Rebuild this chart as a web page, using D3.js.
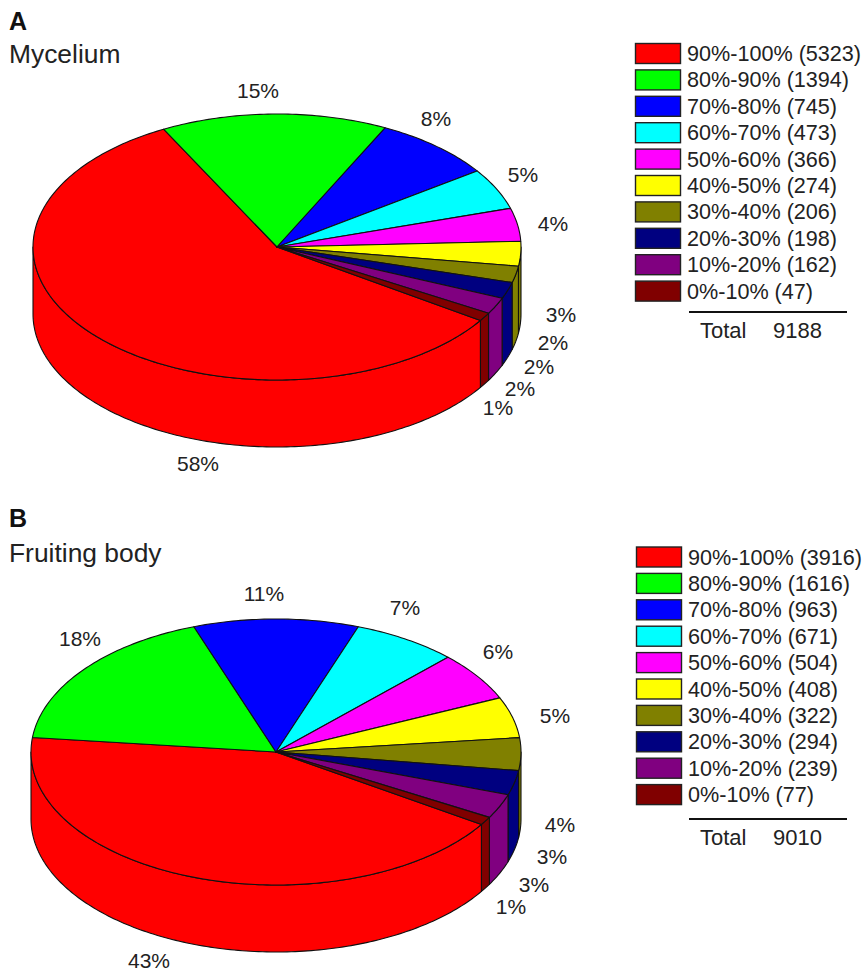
<!DOCTYPE html>
<html>
<head>
<meta charset="utf-8">
<script src="https://cdnjs.cloudflare.com/ajax/libs/d3/7.8.5/d3.min.js"></script>
<style>
  html, body { margin: 0; padding: 0; background: #fff; }
  text { font-family: "Liberation Sans", Arial, sans-serif; fill: #222; }
</style>
</head>
<body>
<svg id="chart" width="862" height="972"></svg>
<script>
const bins = ["90%-100%", "80%-90%", "70%-80%", "60%-70%", "50%-60%", "40%-50%", "30%-40%", "20%-30%", "10%-20%", "0%-10%"];
const sliceColors = ["#ff0000", "#00ff00", "#0000ff", "#00ffff", "#ff00ff", "#ffff00", "#808000", "#000080", "#800080", "#800000"];

const myceliumCounts = [5323, 1394, 745, 473, 366, 274, 206, 198, 162, 47];
const fruitingCounts = [3916, 1616, 963, 671, 504, 408, 322, 294, 239, 77];

const myceliumTotal = 9188;
const fruitingTotal = 9010;

// the slices follow the rounded percentages, not the counts
const myceliumPct = [58, 15, 8, 5, 4, 3, 2, 2, 2, 1];
const fruitingPct = [43, 18, 11, 7, 6, 5, 4, 3, 3, 1];

// in panel A the yellow slice has an olive wall
const myceliumWalls = sliceColors.map((c, i) => i === 5 ? "#808000" : c);

const svg = d3.select("#chart");
const edge = "#111";

function drawPie(cfg) {
  const g = svg.append("g");
  const arcs = d3.pie().sort(null)
    .startAngle(cfg.start)
    .endAngle(cfg.start + 2 * Math.PI)(cfg.pct);

  // d3 pie angle: 0 is up, clockwise
  const px = a => cfg.cx + cfg.rx * Math.sin(a);
  const py = a => cfg.cy - cfg.ry * Math.cos(a);
  const line = d3.line();

  const steps = (a0, a1) => {
    const n = Math.max(2, Math.ceil((a1 - a0) * 60));
    return d3.range(n + 1).map(i => a0 + (a1 - a0) * i / n);
  };

  // side wall, only the part facing the viewer (pi/2 .. 3pi/2)
  arcs.forEach((d, i) => {
    [0, 2 * Math.PI].forEach(off => {
      const a0 = Math.max(d.startAngle - off, Math.PI / 2);
      const a1 = Math.min(d.endAngle - off, 3 * Math.PI / 2);
      if (a1 <= a0) return;
      const top = steps(a0, a1).map(a => [px(a), py(a)]);
      const bot = steps(a0, a1).reverse().map(a => [px(a), py(a) + cfg.depth]);
      g.append("path")
        .attr("d", line(top.concat(bot)) + "Z")
        .attr("fill", cfg.walls[i])
        .attr("stroke", edge)
        .attr("stroke-width", 1.1)
        .attr("stroke-linejoin", "round");
    });
  });

  // top face
  arcs.forEach((d, i) => {
    const rim = steps(d.startAngle, d.endAngle).map(a => [px(a), py(a)]);
    g.append("path")
      .attr("d", line([[cfg.cx, cfg.cy]].concat(rim)) + "Z")
      .attr("fill", sliceColors[i])
      .attr("stroke", edge)
      .attr("stroke-width", 1.1)
      .attr("stroke-linejoin", "round");
  });

  g.selectAll("text.pct")
    .data(cfg.pct)
    .join("text")
    .attr("class", "pct")
    .attr("x", (d, i) => cfg.labelX[i])
    .attr("y", (d, i) => cfg.labelY[i])
    .attr("text-anchor", "middle")
    .attr("font-size", 21)
    .text(d => d + "%");

  // panel letter and title
  g.append("text").attr("x", 9).attr("y", cfg.letterY)
    .attr("font-size", 25).attr("font-weight", "bold").style("fill", "#111").text(cfg.letter);
  g.append("text").attr("x", 9).attr("y", cfg.titleY)
    .attr("font-size", 26.4).text(cfg.title);

  // legend
  const rowY = d3.scaleBand().domain(d3.range(bins.length)).range([cfg.legendTop, cfg.legendTop + 264]);
  const row = g.selectAll("g.row").data(bins).join("g").attr("class", "row")
    .attr("transform", (d, i) => `translate(${cfg.legendDx},${rowY(i)})`);
  row.append("rect")
    .attr("x", 635.5).attr("y", 2.5).attr("width", 45).attr("height", 20)
    .attr("fill", (d, i) => sliceColors[i])
    .attr("stroke", "#222").attr("stroke-width", 1.4);
  row.append("text")
    .attr("x", 687).attr("y", 20)
    .attr("font-size", 21.6)
    .text((d, i) => `${d} (${cfg.counts[i]})`);

  g.append("line").attr("x1", 689).attr("x2", 847).attr("y1", cfg.ruleY).attr("y2", cfg.ruleY)
    .attr("stroke", "#111").attr("stroke-width", 1.8);
  g.append("text").attr("x", 700).attr("y", cfg.ruleY + 26).attr("font-size", 22).text("Total");
  g.append("text").attr("x", 773).attr("y", cfg.ruleY + 26).attr("font-size", 22).text(cfg.total);
}

drawPie({
  letter: "A", letterY: 30, title: "Mycelium", titleY: 63,
  cx: 277, cy: 247, rx: 244, ry: 133, depth: 67,
  start: (33.5 + 90) * Math.PI / 180,
  counts: myceliumCounts, total: myceliumTotal, pct: myceliumPct, walls: myceliumWalls,
  labelX: [198, 258, 436, 523, 553, 561, 553, 539, 520, 498],
  labelY: [471, 98, 126, 182, 231, 322, 350, 374, 396, 415],
  legendTop: 41, legendDx: 0, ruleY: 312
});

drawPie({
  letter: "B", letterY: 527, title: "Fruiting body", titleY: 562,
  cx: 276, cy: 752, rx: 245, ry: 133, depth: 67,
  start: (33 + 90) * Math.PI / 180,
  counts: fruitingCounts, total: fruitingTotal, pct: fruitingPct, walls: sliceColors,
  labelX: [149, 80, 264, 405, 498, 555, 560, 552, 534, 511],
  labelY: [968, 646, 601, 615, 659, 723, 832, 864, 892, 914],
  legendTop: 544.5, legendDx: 1, ruleY: 819
});
</script>
</body>
</html>
